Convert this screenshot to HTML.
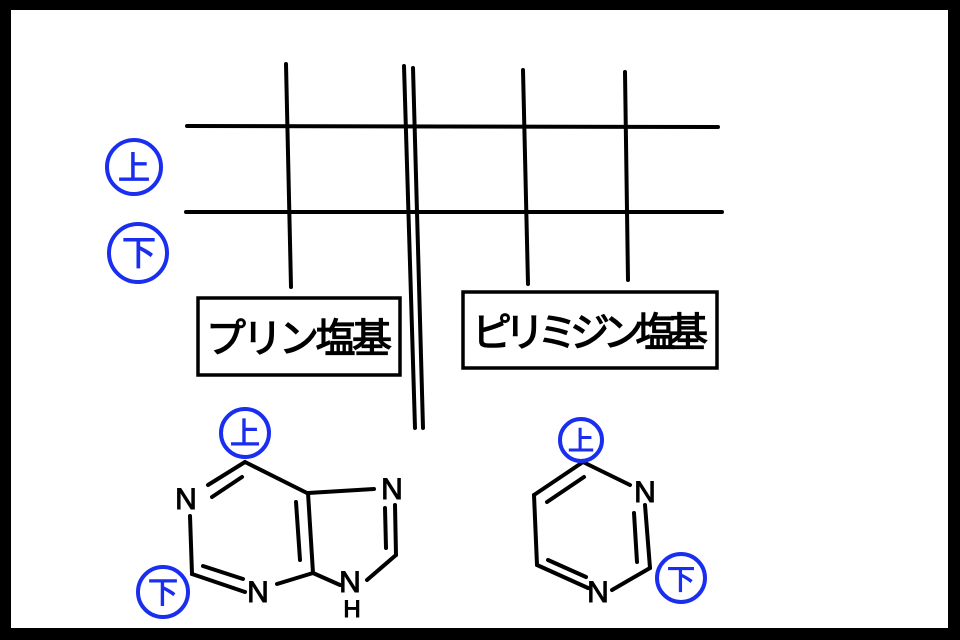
<!DOCTYPE html><html><head><meta charset="utf-8"><style>
html,body{margin:0;padding:0;background:#000;}
svg{display:block}
</style></head><body>
<svg width="960" height="640" viewBox="0 0 960 640" xmlns="http://www.w3.org/2000/svg">
<rect x="0" y="0" width="960" height="640" fill="#000"/>
<rect x="11" y="10" width="937" height="618" fill="#fff"/>
<g stroke="#000" stroke-width="4" stroke-linecap="round" fill="none">
<line x1="187" y1="126" x2="718" y2="127"/>
<line x1="186" y1="212" x2="722" y2="212"/>
<line x1="286" y1="64" x2="291" y2="287"/>
<line x1="523" y1="70" x2="528" y2="284"/>
<line x1="625" y1="72" x2="628" y2="280"/>
<line x1="404" y1="66" x2="415" y2="428"/>
<line x1="413" y1="68" x2="423" y2="428"/>
<rect x="198" y="298" width="202" height="77" stroke-width="3.5"/>
<rect x="463" y="292" width="254" height="76" stroke-width="3.5"/>
<line x1="245" y1="462" x2="208" y2="485"/>
<line x1="242" y1="477" x2="212" y2="497"/>
<line x1="245" y1="462" x2="307" y2="493"/>
<line x1="190" y1="516" x2="192" y2="574"/>
<line x1="192" y1="574" x2="245" y2="592"/>
<line x1="203" y1="566" x2="243" y2="579"/>
<line x1="277" y1="584" x2="313" y2="573"/>
<line x1="308" y1="493" x2="313" y2="573"/>
<line x1="296" y1="502" x2="300" y2="560"/>
<line x1="308" y1="493" x2="374" y2="489"/>
<line x1="395" y1="505" x2="396" y2="555"/>
<line x1="385" y1="508" x2="386" y2="548"/>
<line x1="396" y1="555" x2="367" y2="580"/>
<line x1="313" y1="573" x2="340" y2="585"/>
<line x1="583" y1="462" x2="534" y2="495"/>
<line x1="584" y1="477" x2="547" y2="502"/>
<line x1="583" y1="462" x2="630" y2="485"/>
<line x1="534" y1="495" x2="537" y2="565"/>
<line x1="537" y1="565" x2="588" y2="588"/>
<line x1="548" y1="560" x2="586" y2="577"/>
<line x1="612" y1="590" x2="650" y2="568"/>
<line x1="645" y1="505" x2="650" y2="568"/>
<line x1="634" y1="513" x2="637" y2="562"/>
</g>
<g font-family="Liberation Sans, sans-serif" font-size="30" fill="#000" stroke="#000" stroke-width="1" text-anchor="middle">
<text x="186" y="509">N</text>
<text x="258" y="602">N</text>
<text x="392" y="499">N</text>
<text x="350" y="592">N</text>
<text x="352" y="617" font-size="24">H</text>
<text x="645" y="502">N</text>
<text x="598" y="602">N</text>
</g>
<g font-family="Liberation Sans, 'Noto Sans CJK JP', sans-serif" font-size="40" fill="#000" stroke="#000" stroke-width="1.2">
<text x="206" y="352" textLength="186">プリン塩基</text>
<text x="472" y="346" textLength="236">ピリミジン塩基</text>
</g>
<g stroke="#1a2ef0" stroke-width="4" fill="none">
<circle cx="134" cy="167" r="27"/>
<circle cx="138" cy="253" r="29"/>
<circle cx="245" cy="433" r="24"/>
<circle cx="163" cy="592" r="25"/>
<circle cx="581" cy="440" r="21"/>
<circle cx="681" cy="578" r="24"/>
</g>
<g font-family="'Noto Sans CJK JP', sans-serif" fill="#1a2ef0" stroke="#1a2ef0" stroke-width="1" text-anchor="middle">
<text x="134" y="179" font-size="32">上</text>
<text x="139" y="265" font-size="34">下</text>
<text x="245" y="444" font-size="30">上</text>
<text x="163" y="603" font-size="30">下</text>
<text x="581" y="450" font-size="26">上</text>
<text x="681" y="589" font-size="28">下</text>
</g>
</svg>
</body></html>
